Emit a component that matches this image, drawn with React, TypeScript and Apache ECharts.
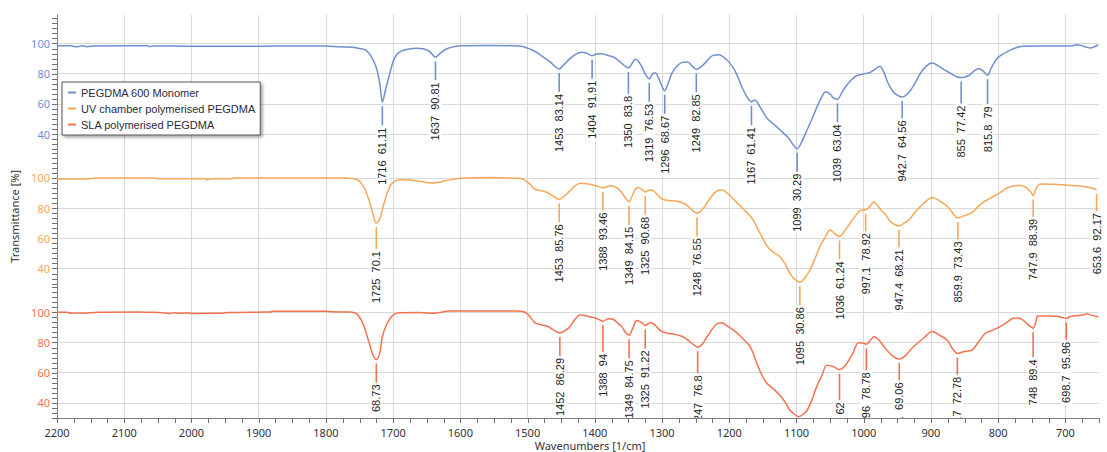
import React, { useEffect, useRef } from 'react';
import * as echarts from 'echarts';

const seriesNames = ['PEGDMA 600 Monomer', 'UV chamber polymerised PEGDMA', 'SLA polymerised PEGDMA'];
const seriesColors = ['#6f8fcf', '#f8a757', '#f4714f'];

const xTickValues = [2200, 2100, 2000, 1900, 1800, 1700, 1600, 1500, 1400, 1300, 1200, 1100, 1000, 900, 800, 700];
const yTickValues = [40, 60, 80, 100];

const monomerSpectrum: [number, number][] = [
  [2200, 98.5], [2180, 98.5], [2171, 97.8], [2162, 98.5], [2155, 97.9], [2145, 98.4], [2100, 98.5], [2065, 98.5],
  [2062, 97.9], [2058, 98.3], [2000, 98.2], [1950, 98.1], [1900, 98.2], [1850, 98.4], [1800, 98.4], [1780, 97.8],
  [1760, 97.5], [1748, 96.5], [1740, 95.5], [1732, 91], [1725, 84], [1720, 74], [1716, 61.11], [1711, 70],
  [1705, 80], [1700, 88], [1695, 92.5], [1688, 95], [1680, 96], [1665, 96.8], [1655, 96.5], [1645, 94.5],
  [1637, 90.81], [1630, 93.5], [1620, 96.5], [1610, 97.8], [1600, 98.5], [1560, 98.7], [1520, 98.5], [1507, 98],
  [1495, 96], [1486, 94], [1475, 90.5], [1467, 88], [1453, 83.14], [1445, 86.5], [1437, 90], [1428, 93],
  [1420, 94.2], [1412, 93.5], [1404, 91.91], [1398, 93], [1390, 93.2], [1378, 91.8], [1370, 90.5], [1363, 88],
  [1355, 85], [1350, 83.8], [1345, 86.5], [1340, 89.5], [1336, 88.5], [1330, 84.5], [1324, 79], [1319, 76.53],
  [1314, 80], [1310, 80.5], [1305, 77], [1300, 71.5], [1296, 68.67], [1291, 73.5], [1285, 80.5], [1278, 85],
  [1270, 87.5], [1262, 87.8], [1255, 85], [1249, 82.85], [1242, 84.5], [1233, 88.5], [1225, 92], [1215, 92.5],
  [1207, 90.5], [1200, 87.5], [1191, 81.5], [1180, 70], [1172, 63.5], [1167, 61.41], [1162, 62.5], [1155, 58.5],
  [1144, 50.6], [1135, 47], [1125, 43], [1112, 37.5], [1105, 33], [1099, 30.29], [1092, 35], [1084, 43],
  [1077, 50], [1070, 57.5], [1063, 64], [1057, 68], [1050, 66.5], [1045, 64], [1039, 63.04], [1032, 68],
  [1025, 72.5], [1017, 76.5], [1010, 78.8], [1000, 79.8], [990, 81], [983, 83], [976, 85], [970, 81],
  [964, 74], [957, 68.5], [951, 66], [942.7, 64.56], [935, 66.5], [926, 72], [916, 80], [907, 85],
  [898, 87], [890, 85.5], [880, 82.5], [870, 80], [862, 78], [855, 77.42], [845, 78.5], [835, 82],
  [829, 83.5], [823, 82], [815.8, 79], [810, 84], [802, 90], [795, 92.5], [787, 94.5], [777, 96.5],
  [767, 98], [740, 98.3], [700, 98.3], [689, 98.5], [683, 99.2], [676, 98.7], [668, 97.5], [663, 97],
  [657, 97.8], [651, 99],
];

const uvSpectrum: [number, number][] = [
  [2200, 99.3], [2175, 99.3], [2150, 99.4], [2145, 100], [2100, 100], [2055, 100], [2050, 99.5], [2000, 99.5],
  [1980, 99.4], [1977, 98.7], [1972, 99.4], [1940, 99.5], [1935, 100], [1880, 100], [1800, 100], [1770, 100],
  [1760, 99.5], [1752, 98.5], [1745, 95], [1740, 90.5], [1735, 84], [1730, 76], [1725, 70.1], [1720, 72.5],
  [1716, 79], [1711, 87], [1705, 94], [1700, 97], [1690, 98.7], [1665, 98], [1650, 97], [1640, 96.6],
  [1620, 98.2], [1600, 99.7], [1556, 100.3], [1520, 99.8], [1507, 99.2], [1497, 96], [1489, 92.5], [1480, 91.5],
  [1471, 90.3], [1462, 88], [1453, 85.76], [1445, 88], [1437, 91.4], [1430, 94.5], [1422, 96.5], [1410, 96],
  [1400, 95], [1388, 93.46], [1380, 94.5], [1373, 94.7], [1366, 93], [1360, 90.3], [1354, 86.5], [1349, 84.15],
  [1344, 88.5], [1340, 92.3], [1335, 93.7], [1330, 92.5], [1325, 90.68], [1318, 92], [1313, 91.5], [1306, 88.5],
  [1300, 86], [1290, 85], [1280, 84.7], [1270, 83.5], [1262, 81.5], [1255, 78.5], [1248, 76.55], [1240, 79],
  [1233, 83.5], [1225, 88.5], [1218, 91.5], [1211, 92], [1203, 90], [1195, 86.5], [1184, 81.5], [1175, 77.5],
  [1165, 72.5], [1155, 64], [1144, 55], [1135, 51], [1125, 48], [1117, 43], [1110, 37], [1103, 33],
  [1095, 30.86], [1088, 33.5], [1080, 39], [1072, 47], [1065, 54.7], [1057, 61], [1050, 65.5], [1043, 63],
  [1036, 61.24], [1028, 65], [1020, 70.3], [1012, 75], [1005, 78.5], [997.1, 78.92], [992, 80.5], [985, 84],
  [980, 82], [975, 79], [968, 75.9], [960, 71], [953, 69], [947.4, 68.21], [940, 70], [932, 72.5],
  [926, 75.9], [918, 80], [910, 83.5], [898, 87], [888, 85], [876, 81.4], [868, 77], [859.9, 73.43],
  [850, 75], [839, 77], [830, 81], [819, 84.7], [808, 87.5], [797, 90.3], [788, 93], [778, 94.7],
  [768, 95], [760, 94], [752, 91], [747.9, 88.39], [743, 93.5], [737, 95.9], [720, 95.8], [697, 95.2],
  [685, 94.8], [673, 94.3], [663, 93.5], [653.6, 92.17],
];

const slaSpectrum: [number, number][] = [
  [2200, 100], [2185, 100], [2179, 99.3], [2172, 99.6], [2160, 99.4], [2140, 100], [2080, 100.2], [2060, 100],
  [2040, 99.6], [2032, 99.2], [2025, 99.7], [2018, 99.3], [2005, 99.6], [1998, 99.2], [1960, 99.3], [1945, 99.8],
  [1900, 100.1], [1882, 100.2], [1880, 100.7], [1800, 100.7], [1790, 100.3], [1765, 100.2], [1755, 99.3], [1745, 92.7],
  [1737, 81.7], [1730, 71.7], [1725, 68.73], [1720, 72.8], [1716, 83.8], [1710, 91.6], [1700, 98.2], [1690, 99.7],
  [1660, 99.8], [1641, 99.3], [1616, 100.8], [1516, 100.8], [1501, 99.3], [1489, 93], [1480, 91.8], [1471, 90.9],
  [1462, 88.5], [1452, 86.29], [1444, 88], [1437, 90.5], [1430, 95], [1422, 98.2], [1407, 97], [1395, 95.5],
  [1388, 94], [1380, 95.8], [1373, 95.4], [1366, 93], [1360, 90.5], [1354, 86.5], [1349, 84.75], [1344, 89],
  [1340, 93.3], [1337, 94.5], [1330, 93], [1325, 91.22], [1318, 93.1], [1313, 92.5], [1306, 89.5], [1300, 87.2],
  [1290, 86], [1281, 85.4], [1269, 83.8], [1260, 81], [1253, 78.5], [1247, 76.8], [1240, 79], [1233, 83.8],
  [1225, 89], [1218, 92.5], [1211, 93.1], [1203, 91], [1194, 88.3], [1183, 84], [1169, 77.2], [1158, 65],
  [1150, 57], [1144, 53], [1135, 49.5], [1125, 45.2], [1117, 40.5], [1110, 35.3], [1103, 32.5], [1097, 30.9],
  [1090, 32.5], [1084, 35.3], [1077, 42], [1070, 50.7], [1062, 58.5], [1055, 65], [1045, 64], [1036, 62],
  [1030, 63.5], [1025, 66.2], [1016, 73], [1008, 79.9], [1000, 79.5], [996, 78.78], [990, 81.5], [985, 83.8],
  [978, 82], [968, 76.2], [958, 71.5], [947.1, 69.06], [940, 70.5], [926, 77.2], [912, 82.5], [898, 87.2],
  [888, 85], [876, 81.7], [868, 76], [860.7, 72.78], [850, 74], [839, 75], [829, 80.5], [819, 86.1],
  [808, 88.2], [797, 90.5], [788, 93], [778, 96], [770, 96.3], [763, 94.9], [756, 92], [748, 89.4],
  [744, 93.5], [741, 97.5], [722, 97.5], [710, 97.2], [698.7, 95.96], [692, 97.3], [689, 97.5], [673, 98.2],
  [668, 99], [663, 98.3], [651, 97],
];

const monomerPeakWn = [1716, 1637, 1453, 1404, 1350, 1319, 1296, 1249, 1167, 1099, 1039, 942.7, 855, 815.8];
const monomerPeakT = [61.11, 90.81, 83.14, 91.91, 83.8, 76.53, 68.67, 82.85, 61.41, 30.29, 63.04, 64.56, 77.42, 79];

const uvPeakWn = [1725, 1453, 1388, 1349, 1325, 1248, 1095, 1036, 997.1, 947.4, 859.9, 747.9, 653.6];
const uvPeakT = [70.1, 85.76, 93.46, 84.15, 90.68, 76.55, 30.86, 61.24, 78.92, 68.21, 73.43, 88.39, 92.17];

const slaPeakWn = [1725, 1452, 1388, 1349, 1325, 1247, 1036, 996, 947.1, 860.7, 748, 698.7];
const slaPeakT = [68.73, 86.29, 94, 84.75, 91.22, 76.8, 62, 78.78, 69.06, 72.78, 89.4, 95.96];

const spectra = [monomerSpectrum, uvSpectrum, slaSpectrum];
const peakWns = [monomerPeakWn, uvPeakWn, slaPeakWn];
const peakTs = [monomerPeakT, uvPeakT, slaPeakT];

const X_MIN = 650;
const X_MAX = 2200;
const X_MINOR_STEP = 25;
const Y_MIN = 30;
const Y_MAX = 119;
const Y_MINOR_STEP = 10 / 3;
const GRID_TOPS = [14.8, 149.2, 283.6];
const GRID_H = 134.4;
const AXIS_GREY = '#808080';
const TICK_GREY = '#6e6e6e';
const GRID_GREY = '#d9d9d9';
const FONT = 'Noto Sans';

const minorXTicks: number[] = [];
for (let v = X_MIN; v <= X_MAX; v += X_MINOR_STEP) minorXTicks.push(v);
const minorYTicks: number[] = [];
for (let i = 0; Y_MIN + i * Y_MINOR_STEP <= Y_MAX; i++) minorYTicks.push(Y_MIN + i * Y_MINOR_STEP);

function peakSeries(panel: number) {
  const wns = peakWns[panel];
  const ts = peakTs[panel];
  const labels = wns.map((w, i) => `${w}  ${ts[i]}`);
  const color = seriesColors[panel];
  return {
    type: 'custom',
    xAxisIndex: panel,
    yAxisIndex: panel,
    clip: panel === 2,
    silent: true,
    z: 6,
    data: wns.map((w, i) => [w, ts[i]]),
    renderItem: (params: any, api: any) => {
      const p = api.coord([api.value(0), api.value(1)]);
      return {
        type: 'group',
        children: [
          {
            type: 'line',
            shape: { x1: p[0], y1: p[1] + 4, x2: p[0], y2: p[1] + 54 },
            style: { stroke: color, lineWidth: 1.6 },
          },
          {
            type: 'text',
            x: p[0],
            y: p[1] + 54,
            rotation: Math.PI / 2,
            style: {
              text: labels[params.dataIndex],
              fill: '#222',
              font: '11px "Liberation Sans", Arial, sans-serif',
              align: 'center',
              verticalAlign: 'middle',
              backgroundColor: '#ffffff',
              padding: [1, 2, 0, 2],
            },
          },
        ],
      };
    },
  };
}

// tick marks along the left (y) axis of a panel, placed by the panel's own scales
function yTickSeries(panel: number) {
  return {
    type: 'custom',
    xAxisIndex: panel,
    yAxisIndex: panel,
    clip: false,
    silent: true,
    z: 5,
    data: minorYTicks.map((v) => [X_MAX, v]),
    renderItem: (_params: any, api: any) => {
      const p = api.coord([api.value(0), api.value(1)]);
      const y = Math.round(p[1]) + 0.5;
      return {
        type: 'line',
        shape: { x1: p[0] - 5, y1: y, x2: p[0], y2: y },
        style: { stroke: TICK_GREY, lineWidth: 1 },
      };
    },
  };
}

// tick marks along the bottom (x) axis
function xTickSeries() {
  return {
    type: 'custom',
    xAxisIndex: 2,
    yAxisIndex: 2,
    clip: false,
    silent: true,
    z: 5,
    data: minorXTicks.map((v) => [v, Y_MIN]),
    renderItem: (_params: any, api: any) => {
      const p = api.coord([api.value(0), api.value(1)]);
      const x = Math.round(p[0]) + 0.5;
      return {
        type: 'line',
        shape: { x1: x, y1: p[1], x2: x, y2: p[1] + 5 },
        style: { stroke: TICK_GREY, lineWidth: 1 },
      };
    },
  };
}

export default function App() {
  const ref = useRef<HTMLDivElement>(null);
  useEffect(() => {
    if (!ref.current) return;
    const chart = echarts.init(ref.current, undefined, { renderer: 'svg' });
    const grids = GRID_TOPS.map((top) => ({
      left: 57,
      right: 8,
      top,
      height: GRID_H,
      outerBoundsMode: 'none',
      containLabel: false,
    }));
    const xAxes: any[] = [0, 1, 2].map((i) => ({
      type: 'value',
      gridIndex: i,
      min: X_MIN,
      max: X_MAX,
      inverse: true,
      position: 'bottom',
      axisLine: { show: i === 2, onZero: false, lineStyle: { color: AXIS_GREY } },
      axisTick: { show: false, customValues: xTickValues },
      axisLabel: {
        show: i === 2,
        customValues: xTickValues,
        formatter: (v: number) => String(v),
        color: '#333',
        fontSize: 11,
        fontFamily: FONT,
        margin: 9,
      },
      splitLine: { show: true, lineStyle: { color: GRID_GREY, width: 1 } },
      ...(i === 2
        ? {
            name: 'Wavenumbers [1/cm]',
            nameLocation: 'middle',
            nameGap: 22,
            nameTextStyle: { color: '#333', fontSize: 11, fontFamily: FONT, padding: [0, 0, 0, 24] },
          }
        : {}),
    }));
    const yAxes: any[] = [0, 1, 2].map((i) => ({
      type: 'value',
      gridIndex: i,
      min: Y_MIN,
      max: Y_MAX,
      position: 'left',
      axisLine: { show: true, onZero: false, lineStyle: { color: AXIS_GREY } },
      axisTick: { show: false, customValues: yTickValues },
      axisLabel: {
        customValues: yTickValues,
        formatter: (v: number) => String(v),
        color: seriesColors[i],
        fontSize: 11,
        fontFamily: FONT,
        margin: 7,
      },
      splitLine: { show: true, lineStyle: { color: GRID_GREY, width: 1 } },
      ...(i === 1
        ? {
            name: 'Transmittance [%]',
            nameLocation: 'middle',
            nameGap: 30,
            nameTextStyle: { color: '#333', fontSize: 11, fontFamily: FONT },
          }
        : {}),
    }));
    const lineSeries = spectra.map((data, i) => ({
      type: 'line',
      name: seriesNames[i],
      xAxisIndex: i,
      yAxisIndex: i,
      data,
      showSymbol: false,
      symbol: 'none',
      smooth: 0.3,
      silent: true,
      z: 3,
      lineStyle: { color: seriesColors[i], width: 1.5 },
      itemStyle: { color: seriesColors[i] },
    }));
    chart.setOption({
      animation: false,
      backgroundColor: '#ffffff',
      grid: grids,
      xAxis: xAxes,
      yAxis: yAxes,
      legend: {
        orient: 'vertical',
        left: 62,
        top: 82,
        data: seriesNames,
        icon: 'rect',
        itemWidth: 8,
        itemHeight: 2,
        itemGap: 3,
        itemTextGap: 6,
        padding: [4, 5, 4, 6],
        backgroundColor: '#ffffff',
        borderColor: '#555555',
        borderWidth: 1,
        borderRadius: 0,
        shadowColor: 'rgba(0,0,0,0.35)',
        shadowBlur: 3,
        shadowOffsetX: 2,
        shadowOffsetY: 2,
        selectedMode: false,
        textStyle: { fontSize: 11, color: '#2b2b3b', fontFamily: '"Liberation Sans", Arial, sans-serif', lineHeight: 13 },
      },
      series: [
        ...lineSeries,
        yTickSeries(0),
        yTickSeries(1),
        yTickSeries(2),
        xTickSeries(),
        peakSeries(0),
        peakSeries(1),
        peakSeries(2),
      ],
    });
    return () => chart.dispose();
  }, []);
  return (
    <div
      ref={ref}
      style={{ position: 'absolute', left: 0, top: 0, width: 1107, height: 452, background: '#fff' }}
    />
  );
}
